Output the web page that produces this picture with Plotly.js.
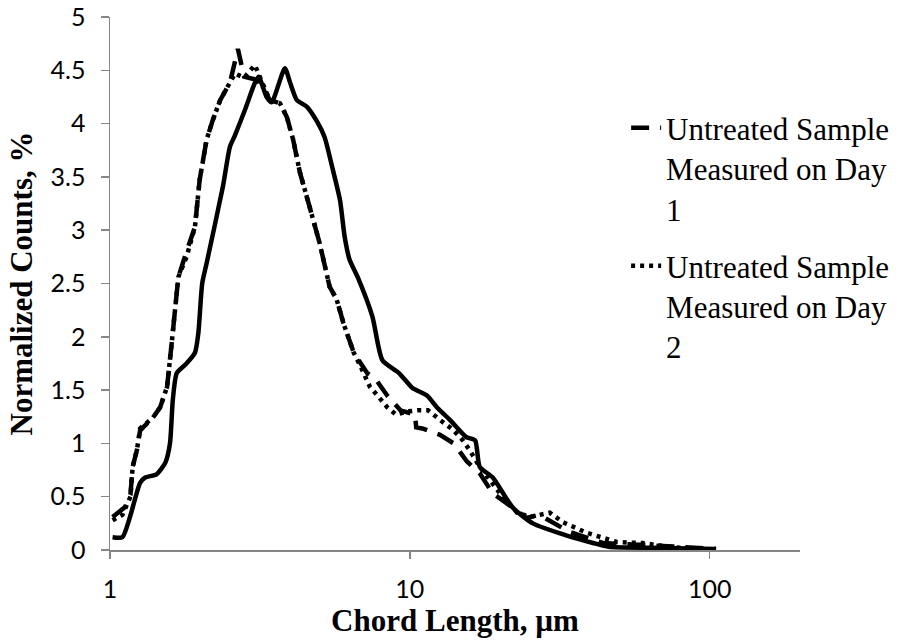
<!DOCTYPE html>
<html>
<head>
<meta charset="utf-8">
<script src="https://cdn.plot.ly/plotly-3.0.1.min.js"></script>
<style>html,body{margin:0;padding:0;background:#fff;}#chart{width:900px;height:641px;}</style>
</head>
<body>
<div id="chart"></div>
<script>
// Solid curve (third sample, no legend entry shown)
const solidX = [1.02, 1.10, 1.166, 1.26, 1.31, 1.43, 1.53, 1.585, 1.62, 1.67, 1.80, 1.92, 1.97, 2.03, 2.10, 2.38, 2.51, 2.61, 2.82, 3.04, 3.13, 3.33, 3.46, 3.83, 3.98, 4.2, 4.53, 4.9, 5.2, 5.5, 5.85, 6.06, 6.3, 6.7, 7.5, 8.1, 9.2, 10.2, 11.4, 12.3, 13.6, 15.4, 16.5, 17.1, 18.9, 22.0, 25.7, 33, 40.8, 46, 64, 105];
const solidY = [0.12, 0.12, 0.31, 0.63, 0.68, 0.71, 0.82, 1.0, 1.41, 1.66, 1.75, 1.85, 2.03, 2.5, 2.69, 3.41, 3.78, 3.89, 4.13, 4.38, 4.44, 4.25, 4.2, 4.52, 4.39, 4.22, 4.16, 4.02, 3.87, 3.6, 3.28, 2.94, 2.72, 2.56, 2.19, 1.78, 1.66, 1.52, 1.45, 1.34, 1.22, 1.06, 1.03, 0.78, 0.68, 0.4, 0.25, 0.14, 0.066, 0.03, 0.02, 0.01];

// Untreated Sample Measured on Day 1 (dashed)
const day1X = [1.02, 1.12, 1.17, 1.19, 1.23, 1.26, 1.31, 1.39, 1.47, 1.55, 1.61, 1.65, 1.69, 1.80, 1.92, 1.99, 2.10, 2.20, 2.33, 2.51, 2.67, 2.80, 3.09, 3.25, 3.41, 3.69, 3.89, 4.08, 4.3, 4.64, 5.0, 5.4, 5.7, 6.0, 6.5, 7.2, 7.7, 8.4, 9.3, 10.4, 10.5, 11.0, 12.6, 14.0, 15.5, 17.1, 18.9, 21, 24.5, 27, 34, 44, 60, 79, 105];
const day1Y = [0.31, 0.40, 0.52, 0.78, 0.94, 1.12, 1.17, 1.24, 1.34, 1.53, 1.97, 2.30, 2.56, 2.80, 3.03, 3.47, 3.85, 4.03, 4.22, 4.38, 4.70, 4.44, 4.41, 4.34, 4.22, 4.19, 4.06, 3.85, 3.54, 3.21, 2.88, 2.47, 2.35, 2.13, 1.85, 1.66, 1.60, 1.45, 1.31, 1.27, 1.15, 1.14, 1.08, 1.0, 0.83, 0.72, 0.53, 0.44, 0.30, 0.33, 0.17, 0.066, 0.05, 0.03, 0.01];

// Untreated Sample Measured on Day 2 (dotted)
const day2X = [1.02, 1.10, 1.17, 1.19, 1.23, 1.26, 1.31, 1.39, 1.47, 1.55, 1.61, 1.65, 1.69, 1.80, 1.92, 1.99, 2.10, 2.20, 2.33, 2.61, 2.80, 3.04, 3.2, 3.41, 3.69, 3.89, 4.08, 4.3, 4.64, 5.0, 5.4, 5.7, 6.0, 6.5, 6.8, 7.36, 7.9, 8.4, 9.0, 9.8, 10.6, 11.5, 12.6, 13.9, 15, 15.8, 17.1, 18.5, 20, 22.8, 25.1, 29.3, 32.4, 39, 49, 59.7, 73, 90];
const day2Y = [0.28, 0.33, 0.50, 0.78, 0.94, 1.14, 1.18, 1.24, 1.34, 1.53, 1.97, 2.30, 2.56, 2.75, 3.03, 3.47, 3.85, 4.03, 4.22, 4.47, 4.43, 4.55, 4.40, 4.22, 4.19, 4.06, 3.85, 3.54, 3.21, 2.88, 2.47, 2.35, 2.13, 1.85, 1.74, 1.53, 1.43, 1.34, 1.27, 1.30, 1.31, 1.31, 1.22, 1.13, 1.03, 0.94, 0.78, 0.66, 0.53, 0.35, 0.31, 0.35, 0.26, 0.16, 0.075, 0.065, 0.03, 0.01];

const legend1 = "Untreated Sample<br>Measured on Day<br>1";
const legend2 = "Untreated Sample<br>Measured on Day<br>2";
const yTicks = [0, 0.5, 1, 1.5, 2, 2.5, 3, 3.5, 4, 4.5, 5];
const xTicks = [1, 10, 100];

const traces = [
  {x: solidX, y: solidY, type: 'scatter', mode: 'lines', showlegend: false,
   line: {color: '#000', width: 4.5, shape: 'spline', smoothing: 0.6}},
  {x: day1X, y: day1Y, type: 'scatter', mode: 'lines', name: legend1, legend: 'legend',
   line: {color: '#000', width: 4.5, dash: '18px,11px'}},
  {x: day2X, y: day2Y, type: 'scatter', mode: 'lines', name: legend2, legend: 'legend2',
   line: {color: '#000', width: 4.5, dash: '4px,5px'}}
];

const legFont = {family: 'Liberation Serif, Times New Roman, serif', size: 31, color: '#000'};
const layout = {
  width: 900, height: 641,
  margin: {l: 110, r: 100, t: 17, b: 91, autoexpand: false},
  paper_bgcolor: '#fff', plot_bgcolor: '#fff',
  showlegend: true,
  legend: {x: 0.748, y: 0.842, xanchor: 'left', yanchor: 'top', bgcolor: 'rgba(0,0,0,0)',
           font: legFont, valign: 'top', itemwidth: 30},
  legend2: {x: 0.748, y: 0.5835, xanchor: 'left', yanchor: 'top', bgcolor: 'rgba(0,0,0,0)',
           font: legFont, valign: 'top', itemwidth: 30},
  xaxis: {type: 'log', range: [0, Math.log10(200)], tickvals: xTicks, ticktext: xTicks.map(String),
          automargin: false,
          showgrid: false, zeroline: false, showline: true, linecolor: '#868686', linewidth: 1.5,
          ticks: 'outside', ticklen: 7, tickcolor: '#868686', tickwidth: 1.5, ticklabelstandoff: 9,
          tickfont: {family: 'Lato, sans-serif', size: 25, color: '#000'},
          title: {text: '<b>Chord Length, µm</b>', standoff: 8,
                  font: {family: 'Liberation Serif, Times New Roman, serif', size: 31, color: '#000'}}},
  yaxis: {range: [0, 5], tickvals: yTicks, ticktext: yTicks.map(String),
          automargin: false,
          showgrid: false, zeroline: false, showline: true, linecolor: '#868686', linewidth: 1.5,
          ticks: 'outside', ticklen: 8, tickcolor: '#868686', tickwidth: 1.5, ticklabelstandoff: 10,
          tickfont: {family: 'Lato, sans-serif', size: 25, color: '#000'},
          title: {text: '<b>Normalized Counts, %</b>', standoff: 8,
                  font: {family: 'Liberation Serif, Times New Roman, serif', size: 31, color: '#000'}}}
};

Plotly.newPlot('chart', traces, layout, {displayModeBar: false, staticPlot: true});
</script>
</body>
</html>
